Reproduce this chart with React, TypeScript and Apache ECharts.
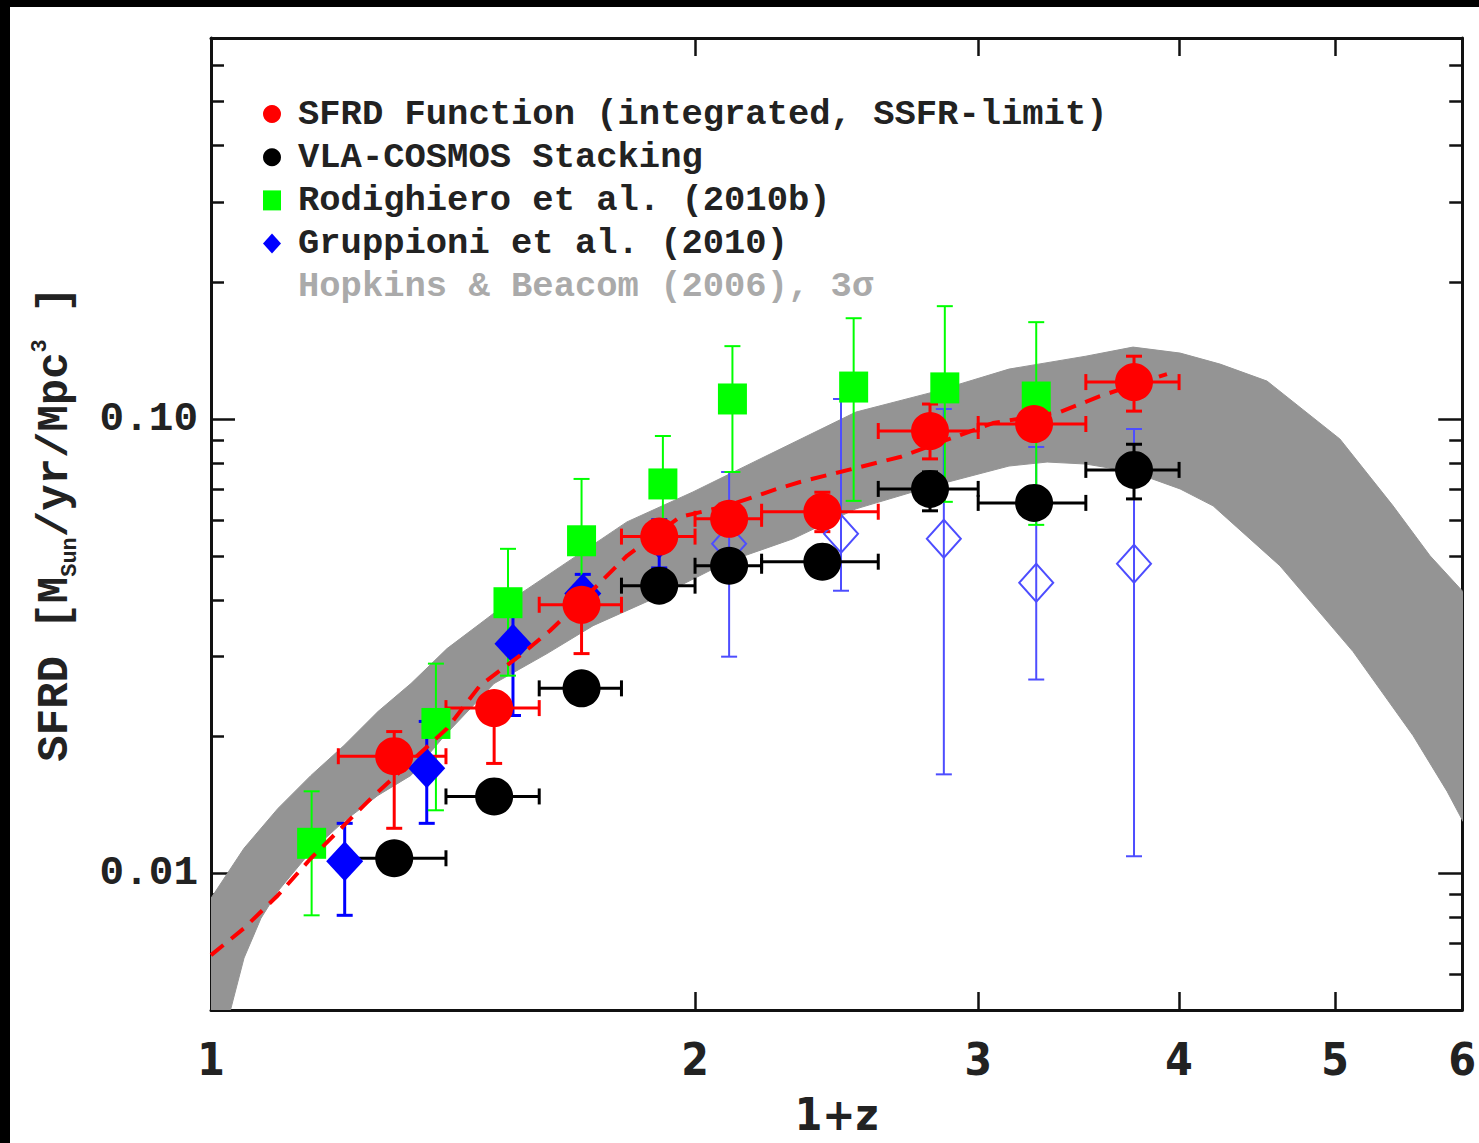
import React, { useEffect, useRef } from "react";
import * as echarts from "echarts";

// ---------- data ----------
const binLo = [1.2, 1.4, 1.6, 1.8, 2.0, 2.2, 2.6, 3.0, 3.5];
const binHi = [1.4, 1.6, 1.8, 2.0, 2.2, 2.6, 3.0, 3.5, 4.0];
const binMid = [1.3, 1.5, 1.7, 1.9, 2.1, 2.4, 2.8, 3.25, 3.75];

const sfrdY = [0.0181, 0.0231, 0.039, 0.0551, 0.0603, 0.0625, 0.0941, 0.0975, 0.1206];
const sfrdLo = [0.01256, 0.01745, 0.03045, 0.052, 0.057, 0.0565, 0.0817, 0.092, 0.1041];
const sfrdHi = [0.02051, 0.025, 0.0423, 0.0585, 0.064, 0.069, 0.1079, 0.104, 0.1375];

const vlaY = [0.01079, 0.01476, 0.02553, 0.04297, 0.04753, 0.04852, 0.07017, 0.06537, 0.07727];
const vlaLo = [0.0103, 0.0141, 0.0245, 0.0412, 0.0455, 0.0465, 0.0628, 0.0625, 0.0667];
const vlaHi = [0.0113, 0.0155, 0.0266, 0.0448, 0.0496, 0.0506, 0.0765, 0.0683, 0.088];

const rodX = [1.155, 1.38, 1.53, 1.7, 1.91, 2.11, 2.51, 2.86, 3.26];
const rodY = [0.01164, 0.02137, 0.03941, 0.05395, 0.07196, 0.1107, 0.1176, 0.1171, 0.1118];
const rodLo = [0.00808, 0.01376, 0.02723, 0.0394, 0.0559, 0.07645, 0.06604, 0.06572, 0.05848];
const rodHi = [0.01515, 0.02894, 0.05179, 0.07381, 0.09176, 0.1447, 0.1667, 0.1772, 0.1634];

const gruX = [1.211, 1.362, 1.541, 1.703, 1.9, 2.1, 2.465, 2.856, 3.26, 3.75];
const gruY = [0.01063, 0.01702, 0.03202, 0.0413, 0.0545, 0.05313, 0.05589, 0.0545, 0.04361, 0.048];
const gruLo = [0.00808, 0.01288, 0.02225, 0.0375, 0.047, 0.02998, 0.04188, 0.01651, 0.0267, 0.0109];
const gruHi = [0.01288, 0.02159, 0.0393, 0.0455, 0.06, 0.07645, 0.1107, 0.1052, 0.0868, 0.09506];
const gruOpen = [0, 0, 0, 0, 0, 1, 1, 1, 1, 1];

const fitX = [1.0, 1.0484, 1.1006, 1.1539, 1.2097, 1.2575, 1.4021, 1.4699, 1.5563, 1.6248, 1.738, 1.8143, 1.9577, 2.0941, 2.2491, 2.3245, 2.6822, 3.064, 3.3729, 3.5717, 3.931];
const fitY = [0.006604, 0.007569, 0.008946, 0.01079, 0.01275, 0.01462, 0.02083, 0.0259, 0.03014, 0.0342, 0.04295, 0.05, 0.06089, 0.06439, 0.07016, 0.07268, 0.08249, 0.098, 0.1036, 0.1123, 0.1256];

const hbUpperX = [1.0, 1.0484, 1.1006, 1.1539, 1.2097, 1.2701, 1.3315, 1.4021, 1.4699, 1.5409, 1.6487, 1.8143, 1.9941, 2.1952, 2.5183, 2.8119, 3.1352, 3.4997, 3.7447, 4.0061, 4.242, 4.5369, 5.0356, 5.434, 5.7296, 6.0069];
const hbUpperY = [0.008812, 0.01135, 0.01389, 0.01642, 0.01911, 0.0227, 0.02616, 0.03123, 0.03543, 0.04022, 0.04726, 0.05937, 0.0691, 0.08168, 0.1036, 0.1146, 0.1288, 0.1375, 0.144, 0.1397, 0.1321, 0.1212, 0.09038, 0.06439, 0.05, 0.04168];
const hbLowerX = [1.0, 1.0291, 1.0484, 1.0742, 1.1006, 1.1539, 1.2097, 1.2701, 1.3315, 1.3957, 1.4997, 1.618, 1.7283, 1.9024, 2.0941, 2.3015, 2.5183, 2.8119, 3.1352, 3.3113, 3.4997, 3.7447, 4.0061, 4.1997, 4.6218, 5.1315, 5.5917, 5.8717, 6.0069];
const hbLowerY = [0.00342, 0.00505, 0.006505, 0.007962, 0.009131, 0.01118, 0.01301, 0.01484, 0.01642, 0.02, 0.02616, 0.03045, 0.03508, 0.04083, 0.04849, 0.0545, 0.06342, 0.07123, 0.0788, 0.08041, 0.0796, 0.07645, 0.07016, 0.06439, 0.04751, 0.03076, 0.0201, 0.01514, 0.01301];

const xTickValues = [2, 3, 4, 5];
const xLabelValues = [1, 2, 3, 4, 5, 6];
const yMajorValues = [0.01, 0.1];
const yMajorLabels = ["0.01", "0.10"];
const yMinorValues = [0.006, 0.007, 0.008, 0.009, 0.02, 0.03, 0.04, 0.05, 0.06, 0.07, 0.08, 0.09, 0.2, 0.3, 0.4, 0.5, 0.6];

const NAMES = {
  sfrd: "SFRD Function (integrated, SSFR-limit)",
  vla: "VLA-COSMOS Stacking",
  rod: "Rodighiero et al. (2010b)",
  gru: "Gruppioni et al. (2010)",
  hb: "Hopkins & Beacom (2006), 3σ",
};

const MONO = "'Liberation Mono', 'DejaVu Sans Mono', 'Courier New', monospace";
const NARROW = "'Liberation Sans Narrow', 'DejaVu Sans Condensed', 'Liberation Sans', sans-serif";
const AXIS = "#111";

function errorBars(id: string, rows: number[][], color: string, width: number, cap: number, openColor?: string, openWidth?: number) {
  return {
    type: "custom",
    id,
    name: id,
    silent: true,
    clip: false,
    encode: { x: 0, y: 1 },
    data: rows,
    renderItem: (params: any, api: any) => {
      const x = api.value(0);
      const y = api.value(1);
      const yl = api.value(2);
      const yh = api.value(3);
      const xl = api.value(4);
      const xh = api.value(5);
      const open = api.value(6);
      const c = open ? openColor : color;
      const w = open ? openWidth : width;
      const p = api.coord([x, y]);
      const pl = api.coord([x, yl]);
      const ph = api.coord([x, yh]);
      const st = { stroke: c, lineWidth: w };
      const ch: any[] = [
        { type: "line", shape: { x1: p[0], y1: pl[1], x2: p[0], y2: ph[1] }, style: st },
        { type: "line", shape: { x1: p[0] - cap, y1: pl[1], x2: p[0] + cap, y2: pl[1] }, style: st },
        { type: "line", shape: { x1: p[0] - cap, y1: ph[1], x2: p[0] + cap, y2: ph[1] }, style: st },
      ];
      if (xh > xl) {
        const a = api.coord([xl, y]);
        const b = api.coord([xh, y]);
        ch.push({ type: "line", shape: { x1: a[0], y1: p[1], x2: b[0], y2: p[1] }, style: st });
        ch.push({ type: "line", shape: { x1: a[0], y1: p[1] - cap, x2: a[0], y2: p[1] + cap }, style: st });
        ch.push({ type: "line", shape: { x1: b[0], y1: p[1] - cap, x2: b[0], y2: p[1] + cap }, style: st });
      }
      return { type: "group", children: ch };
    },
  };
}

export default function App() {
  const ref = useRef<HTMLDivElement>(null);

  useEffect(() => {
    if (!ref.current) return;
    const chart = echarts.init(ref.current, null, { renderer: "svg" });

    const sfrdRows = binMid.map((x, i) => [x, sfrdY[i], sfrdLo[i], sfrdHi[i], binLo[i], binHi[i], 0]);
    const vlaRows = binMid.map((x, i) => [x, vlaY[i], vlaLo[i], vlaHi[i], binLo[i], binHi[i], 0]);
    const rodRows = rodX.map((x, i) => [x, rodY[i], rodLo[i], rodHi[i], x, x, 0]);
    const gruRows = gruX.map((x, i) => [x, gruY[i], gruLo[i], gruHi[i], x, x, gruOpen[i]]);

    const yBase: any = {
      type: "log",
      logBase: 10,
      min: 0.005,
      max: 0.69,
      splitLine: { show: false },
      axisLabel: { show: false },
      axisLine: { show: false },
      axisTick: { show: false },
    };
    const xBase: any = {
      type: "log",
      logBase: 10,
      min: 1,
      max: 6,
      splitLine: { show: false },
      axisLabel: { show: false },
    };
    const lineSt = { color: AXIS, width: 3 };
    const tickSt = { color: AXIS, width: 2.5 };

    const option: any = {
      animation: false,
      backgroundColor: "#ffffff",
      grid: { left: 201, top: 31, width: 1252, height: 972, containLabel: false },
      legend: {
        show: true,
        orient: "vertical",
        left: 248,
        top: 84,
        itemWidth: 18,
        itemHeight: 20,
        itemGap: 7.2,
        selectedMode: false,
        textStyle: {
          fontFamily: MONO,
          fontWeight: "bold",
          fontSize: 35.5,
          lineHeight: 34,
          color: "#222222",
          padding: [0, 0, 0, 12],
        },
        data: [
          { name: NAMES.sfrd, icon: "circle", itemStyle: { color: "#ff0000" } },
          { name: NAMES.vla, icon: "circle", itemStyle: { color: "#000000" } },
          { name: NAMES.rod, icon: "rect", itemStyle: { color: "#00ff00" } },
          { name: NAMES.gru, icon: "diamond", itemStyle: { color: "#0000ff", borderWidth: 0 } },
          { name: NAMES.hb, icon: "rect", itemStyle: { opacity: 0 }, textStyle: { color: "#aaaaaa" } },
        ],
      },
      xAxis: [
        {
          ...xBase,
          position: "bottom",
          axisLine: { show: true, lineStyle: lineSt },
          axisTick: { show: true, inside: true, length: 18, customValues: xTickValues, lineStyle: tickSt },
          axisLabel: {
            show: true,
            customValues: xLabelValues,
            formatter: (v: number) => String(Math.round(v)),
            fontFamily: NARROW,
            fontWeight: "bold",
            fontSize: 44,
            lineHeight: 44,
            color: "#222222",
            margin: 27,
          },
          name: "1+z",
          nameLocation: "middle",
          nameGap: 82,
          nameTextStyle: { fontFamily: NARROW, fontWeight: "bold", fontSize: 44, lineHeight: 44, color: "#222222" },
        },
        {
          ...xBase,
          position: "top",
          axisLine: { show: true, lineStyle: lineSt },
          axisTick: { show: true, inside: true, length: 18, customValues: xTickValues, lineStyle: tickSt },
        },
      ],
      yAxis: [
        {
          ...yBase,
          position: "left",
          axisLine: { show: true, lineStyle: lineSt },
          axisTick: { show: true, inside: true, length: 24, customValues: yMajorValues, lineStyle: tickSt },
          axisLabel: {
            show: true,
            customValues: yMajorValues,
            formatter: (v: number) => (v > 0.05 ? yMajorLabels[1] : yMajorLabels[0]),
            fontFamily: MONO,
            fontWeight: "bold",
            fontSize: 41,
            color: "#222222",
            margin: 13,
          },
          name: "{a|SFRD [M}{s|Sun}{a|/yr/Mpc}{p|3}{a| ]}",
          nameLocation: "middle",
          nameGap: 130,
          nameTextStyle: {
            rich: {
              a: { fontFamily: MONO, fontWeight: "bold", fontSize: 44, lineHeight: 52, color: "#222222" },
              s: { fontFamily: MONO, fontWeight: "bold", fontSize: 22, lineHeight: 52, color: "#222222", verticalAlign: "bottom" },
              p: { fontFamily: MONO, fontWeight: "bold", fontSize: 22, lineHeight: 52, color: "#222222", verticalAlign: "top" },
            },
          },
        },
        {
          ...yBase,
          position: "left",
          axisTick: { show: true, inside: true, length: 13, customValues: yMinorValues, lineStyle: tickSt },
        },
        {
          ...yBase,
          position: "right",
          axisLine: { show: true, lineStyle: lineSt },
          axisTick: { show: true, inside: true, length: 24, customValues: yMajorValues, lineStyle: tickSt },
        },
        {
          ...yBase,
          position: "right",
          axisTick: { show: true, inside: true, length: 13, customValues: yMinorValues, lineStyle: tickSt },
        },
      ],
      series: [
        {
          type: "custom",
          name: NAMES.hb,
          silent: true,
          clip: true,
          itemStyle: { color: "#949494" },
          encode: { x: 0, y: 1 },
          data: [[hbUpperX[0], hbUpperY[0]]],
          renderItem: (params: any, api: any) => {
            if (params.dataIndex !== 0) return null;
            const pts: number[][] = [];
            hbUpperX.forEach((x, i) => pts.push(api.coord([x, hbUpperY[i]])));
            for (let i = hbLowerX.length - 1; i >= 0; i--) pts.push(api.coord([hbLowerX[i], hbLowerY[i]]));
            return { type: "polygon", shape: { points: pts }, style: { fill: "#949494", stroke: "#949494", lineWidth: 1 } };
          },
        },
        errorBars("gruErr", gruRows, "#0000ff", 3, 8, "#4d4dff", 2),
        {
          type: "scatter",
          name: NAMES.gru,
          silent: true,
          symbol: "diamond",
          symbolSize: [37, 40],
          itemStyle: { color: "#0000ff", opacity: 1 },
          data: gruX.map((x, i) =>
            gruOpen[i]
              ? { value: [x, gruY[i]], symbolSize: [34, 38], itemStyle: { color: "rgba(255,255,255,0)", borderColor: "#4d4dff", borderWidth: 2 } }
              : { value: [x, gruY[i]] }
          ),
        },
        errorBars("rodErr", rodRows, "#00ff00", 2, 8),
        {
          type: "scatter",
          name: NAMES.rod,
          silent: true,
          symbol: "rect",
          symbolSize: [29, 31],
          itemStyle: { color: "#00ff00", opacity: 1 },
          data: rodX.map((x, i) => [x, rodY[i]]),
        },
        {
          type: "line",
          name: "fit",
          silent: true,
          showSymbol: false,
          symbol: "none",
          clip: true,
          lineStyle: { color: "#ff0000", width: 4, type: [16, 10] },
          data: fitX.map((x, i) => [x, fitY[i]]),
        },
        errorBars("vlaErr", vlaRows, "#000000", 3, 8),
        {
          type: "scatter",
          name: NAMES.vla,
          silent: true,
          symbol: "circle",
          symbolSize: 38,
          itemStyle: { color: "#000000", opacity: 1 },
          data: binMid.map((x, i) => [x, vlaY[i]]),
        },
        errorBars("sfrdErr", sfrdRows, "#ff0000", 3, 8),
        {
          type: "scatter",
          name: NAMES.sfrd,
          silent: true,
          symbol: "circle",
          symbolSize: 38,
          itemStyle: { color: "#ff0000", opacity: 1 },
          data: binMid.map((x, i) => [x, sfrdY[i]]),
        },
      ],
    };

    chart.setOption(option);
    return () => chart.dispose();
  }, []);

  return (
    <div style={{ position: "absolute", left: 0, top: 0, width: 1479, height: 1143, background: "#000000" }}>
      <div
        ref={ref}
        style={{ position: "absolute", left: 10, top: 7, width: 1469, height: 1136, background: "#ffffff" }}
      />
    </div>
  );
}
